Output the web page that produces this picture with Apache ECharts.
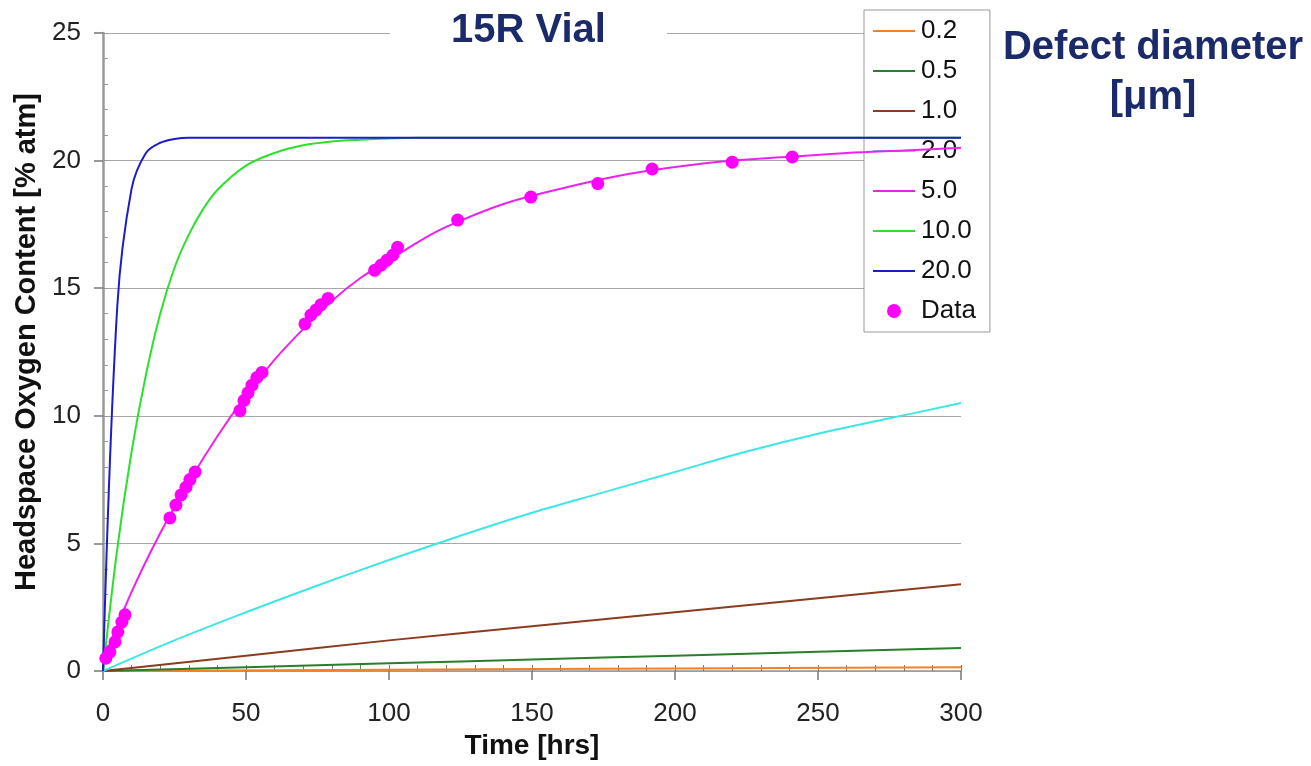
<!DOCTYPE html>
<html>
<head>
<meta charset="utf-8">
<title>15R Vial</title>
<script src="https://cdn.jsdelivr.net/npm/echarts@6/dist/echarts.min.js"></script>
<style>
    html, body { margin: 0; padding: 0; background: #fff; }
    #main { width: 1311px; height: 766px; }
</style>
</head>
<body>
<div id="main"></div>
<script>
// curve values, [time hrs] / [% atm]
var legendNames = ['0.2', '0.5', '1.0', '2.0', '5.0', '10.0', '20.0', 'Data'];
var lineColors = ['#f58220', '#2a7d2a', '#8b3c1e', '#3ee6e6', '#ee22ee', '#2ee02e', '#1c1ccc'];

var t02 = [0, 100, 200, 300];
var v02 = [0, 0.05, 0.1, 0.15];

var t05 = [0, 50, 100, 150, 200, 250, 300];
var v05 = [0, 0.15, 0.3, 0.45, 0.6, 0.75, 0.9];

var t10 = [0, 50, 100, 150, 200, 250, 300];
var v10 = [0, 0.6, 1.2, 1.75, 2.3, 2.85, 3.4];

var t20 = [0, 25, 50, 75, 100, 125, 150, 175, 200, 225, 250, 275, 300];
var v20 = [0, 1.2, 2.3, 3.35, 4.35, 5.3, 6.2, 7.0, 7.8, 8.6, 9.3, 9.9, 10.5];

var t50 = [0, 10, 20, 30, 40, 50, 60, 70, 80, 90, 100, 110, 120, 140, 160, 180, 200, 220, 240, 260, 280, 300];
var v50 = [0.4, 3.1, 5.4, 7.4, 9.2, 10.8, 12.2, 13.4, 14.5, 15.4, 16.1, 16.8, 17.4, 18.3, 18.9, 19.4, 19.75, 20.0, 20.15, 20.3, 20.4, 20.5];

var t100 = [0, 5, 10, 15, 20, 25, 30, 35, 40, 50, 60, 70, 80, 90, 100, 110, 200, 300];
var v100 = [0, 4.8, 8.6, 11.6, 14.0, 15.8, 17.1, 18.1, 18.85, 19.8, 20.3, 20.6, 20.75, 20.82, 20.87, 20.9, 20.9, 20.9];

var t200 = [0, 5, 10, 15, 20, 25, 30, 100, 200, 300];
var v200 = [0, 14.3, 18.9, 20.3, 20.7, 20.85, 20.9, 20.9, 20.9, 20.9];

var dataT = [1, 2.4, 4.2, 5.2, 6.6, 7.7, 23.4, 25.5, 27.3, 29, 30.4, 32.2, 47.9, 49.3, 50.7, 52.1, 53.8, 55.6,
    70.6, 72.7, 74.5, 76.2, 78.7, 95, 97.2, 99.3, 101.4, 103, 124, 149.6, 173, 192, 220, 241];
var dataV = [0.5, 0.75, 1.14, 1.53, 1.92, 2.2, 6.0, 6.5, 6.9, 7.2, 7.5, 7.8, 10.2, 10.6, 10.9, 11.2, 11.5, 11.7,
    13.6, 13.95, 14.15, 14.35, 14.6, 15.7, 15.9, 16.1, 16.3, 16.6, 17.67, 18.57, 19.1, 19.67, 19.94, 20.14];

var xTicks = { min: 0, max: 300, step: 50, minor: 10 };
var yTicks = { min: 0, max: 25, step: 5, minor: 1 };

var FONT = "'Liberation Sans', Arial, sans-serif";
var NAVY = '#1b2a6b';
var LINE_ICON = 'path://M0,0 L42,0 L42,2.2 L0,2.2 Z';

function pairs(xs, ys) {
    var out = [];
    for (var i = 0; i < xs.length; i++) {
        out.push([xs[i], ys[i]]);
    }
    return out;
}

var curveT = [t02, t05, t10, t20, t50, t100, t200];
var curveV = [v02, v05, v10, v20, v50, v100, v200];

var series = [];
var legendData = [];
for (var i = 0; i < curveT.length; i++) {
    series.push({
        name: legendNames[i],
        type: 'line',
        data: pairs(curveT[i], curveV[i]),
        symbol: 'none',
        smooth: 0.35,
        color: lineColors[i],
        lineStyle: { width: 2, color: lineColors[i] },
        z: 3 + i
    });
    legendData.push({ name: legendNames[i], icon: LINE_ICON });
}
series.push({
    name: legendNames[7],
    type: 'scatter',
    data: pairs(dataT, dataV),
    symbol: 'circle',
    symbolSize: 13,
    itemStyle: { color: '#ff00ff', opacity: 1 },
    z: 20
});
legendData.push({ name: legendNames[7], icon: 'circle' });

var chart = echarts.init(document.getElementById('main'));
var option = {
    backgroundColor: '#fff',
    animation: false,
    textStyle: { fontFamily: FONT },
    title: {
        text: '15R Vial',
        left: 390,
        top: 7,
        padding: [4, 61],
        backgroundColor: '#fff',
        textStyle: { fontSize: 40, fontWeight: 'bold', color: NAVY, fontFamily: FONT }
    },
    graphic: [{
        type: 'text',
        x: 1153,
        y: 23,
        z: 100,
        style: {
            text: 'Defect diameter\n[μm]',
            font: 'bold 40px ' + FONT,
            fill: NAVY,
            align: 'center',
            verticalAlign: 'top',
            lineHeight: 50
        }
    }],
    legend: {
        orient: 'vertical',
        left: 864,
        top: 10,
        padding: [8, 14, 8, 9],
        itemWidth: 42,
        itemHeight: 14,
        itemGap: 14,
        symbolKeepAspect: true,
        backgroundColor: '#fff',
        borderColor: '#999',
        borderWidth: 1,
        data: legendData,
        textStyle: { fontSize: 26, lineHeight: 26, color: '#111', fontFamily: FONT, padding: [0, 0, 0, 1] }
    },
    grid: { left: 103, right: 350, top: 33, bottom: 95 },
    xAxis: [{
        type: 'value',
        min: xTicks.min,
        max: xTicks.max,
        interval: xTicks.step,
        name: 'Time [hrs]',
        nameLocation: 'middle',
        nameGap: 61,
        nameTextStyle: { fontSize: 28, fontWeight: 'bold', color: '#111', fontFamily: FONT },
        axisLine: { show: true, lineStyle: { color: '#999', width: 1.5 } },
        axisTick: { show: true, length: 9, lineStyle: { color: '#777', width: 1.5 } },
        axisLabel: { fontSize: 26, color: '#222', margin: 30, fontFamily: FONT },
        splitLine: { show: false }
    }, {
        type: 'value',
        position: 'bottom',
        min: xTicks.min,
        max: xTicks.max,
        interval: xTicks.minor,
        axisLine: { show: false },
        axisTick: { show: true, inside: true, length: 6, lineStyle: { color: '#777', width: 1 } },
        axisLabel: { show: false },
        splitLine: { show: false }
    }],
    yAxis: [{
        type: 'value',
        min: yTicks.min,
        max: yTicks.max,
        interval: yTicks.step,
        name: 'Headspace Oxygen Content [% atm]',
        nameLocation: 'middle',
        nameGap: 62,
        nameTextStyle: { fontSize: 29, fontWeight: 'bold', color: '#111', fontFamily: FONT, padding: [0, 0, 0, 20] },
        axisLine: { show: true, lineStyle: { color: '#999', width: 2.5 } },
        axisTick: { show: true, length: 9, lineStyle: { color: '#777', width: 1.5 } },
        axisLabel: { fontSize: 26, color: '#222', margin: 22, fontFamily: FONT },
        splitLine: { show: true, lineStyle: { color: '#a8a8a8', width: 1.2 } }
    }, {
        type: 'value',
        position: 'left',
        min: yTicks.min,
        max: yTicks.max,
        interval: yTicks.minor,
        axisLine: { show: false },
        axisTick: { show: true, inside: true, length: 5, lineStyle: { color: '#999', width: 1 } },
        axisLabel: { show: false },
        splitLine: { show: false }
    }],
    series: series
};
chart.setOption(option);
window.onresize = function () {
    chart.resize();
};
</script>
</body>
</html>
